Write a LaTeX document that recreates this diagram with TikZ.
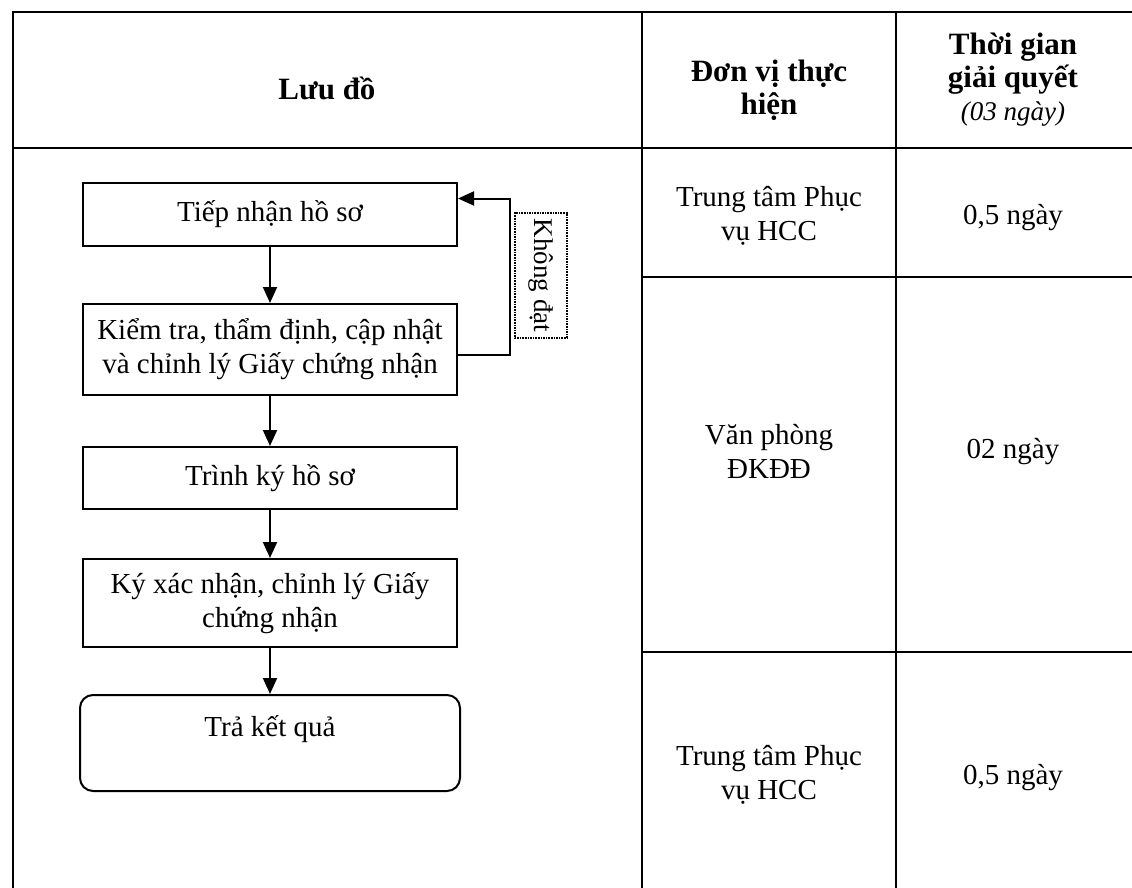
\documentclass[tikz,border=0pt]{standalone}
\usepackage{fontspec}
\setmainfont{Liberation Serif}
\usetikzlibrary{arrows.meta,positioning}

\begin{document}
\begin{tikzpicture}[
x=1pt,y=-1pt,
node distance=50pt,
block/.style={draw,line width=2pt,align=center,minimum width=374pt,inner sep=0pt,font=\fontsize{29}{34}\selectfont},
arrow/.style={-{Triangle[length=16pt,width=14pt]},line width=2pt},
grid/.style={line width=2pt},
head/.style={align=center,inner sep=0pt,font=\bfseries\fontsize{31}{33}\selectfont},
cell/.style={align=center,inner sep=0pt,font=\fontsize{29}{34}\selectfont}
]
\useasboundingbox (0,0) rectangle (1132,888);
% table
\draw[grid] (1132,12) -- (13,12) -- (13,888);
\draw[grid] (13,148) -- (1132,148);
\draw[grid] (642,12) -- (642,888);
\draw[grid] (896,12) -- (896,888);
\draw[grid] (642,277) -- (1132,277);
\draw[grid] (642,652) -- (1132,652);
\node[head] (hflow) at (327,88) {Lưu đồ};
\node[head] (hunit) at (769,90) {Đơn vị thực\\hiện};
\node[head] (htime) at (1013,80) {Thời gian\\giải quyết\\{\mdseries\itshape\fontsize{27}{30}\selectfont(03 ngày)}};
\node[cell] (unit1) at (769,216) {Trung tâm Phục\\vụ HCC};
\node[cell] (time1) at (1013,218) {0,5 ngày};
\node[cell] (unit2) at (769,451) {Văn phòng\\ĐKĐĐ};
\node[cell] (time2) at (1013,452) {02 ngày};
\node[cell] (unit3) at (769,775) {Trung tâm Phục\\vụ HCC};
\node[cell] (time3) at (1013,778) {0,5 ngày};
% flow
\node[block,minimum height=63pt] (rcv) at (270,214.5) {Tiếp nhận hồ sơ};
\node[block,minimum height=91pt,below=56pt of rcv] (chk) {Kiểm tra, thẩm định, cập nhật\\và chỉnh lý Giấy chứng nhận};
\node[block,minimum height=62pt,below=50pt of chk] (sgn) {Trình ký hồ sơ};
\node[block,minimum height=88pt,below=48pt of sgn] (cfm) {Ký xác nhận, chỉnh lý Giấy\\chứng nhận};
\node[block,rounded corners=13pt,minimum width=380pt,minimum height=96pt,below=46pt of cfm] (ret) {Trả kết quả\\\mbox{}};
\draw[arrow] (rcv) -- (chk);
\draw[arrow] (chk) -- (sgn);
\draw[arrow] (sgn) -- (cfm);
\draw[arrow] (cfm) -- (ret);
\draw[arrow] ([yshift=-5pt]chk.east) -- ++(52,0) coordinate (back) |- ([yshift=16pt]rcv.east);
\node[draw,densely dotted,line width=1.6pt,rotate=-90,inner sep=3pt,minimum width=125pt,minimum height=52pt,font=\fontsize{27}{30}\selectfont] (fail) at (541,275.5) {Không đạt};
\end{tikzpicture}
\end{document}
